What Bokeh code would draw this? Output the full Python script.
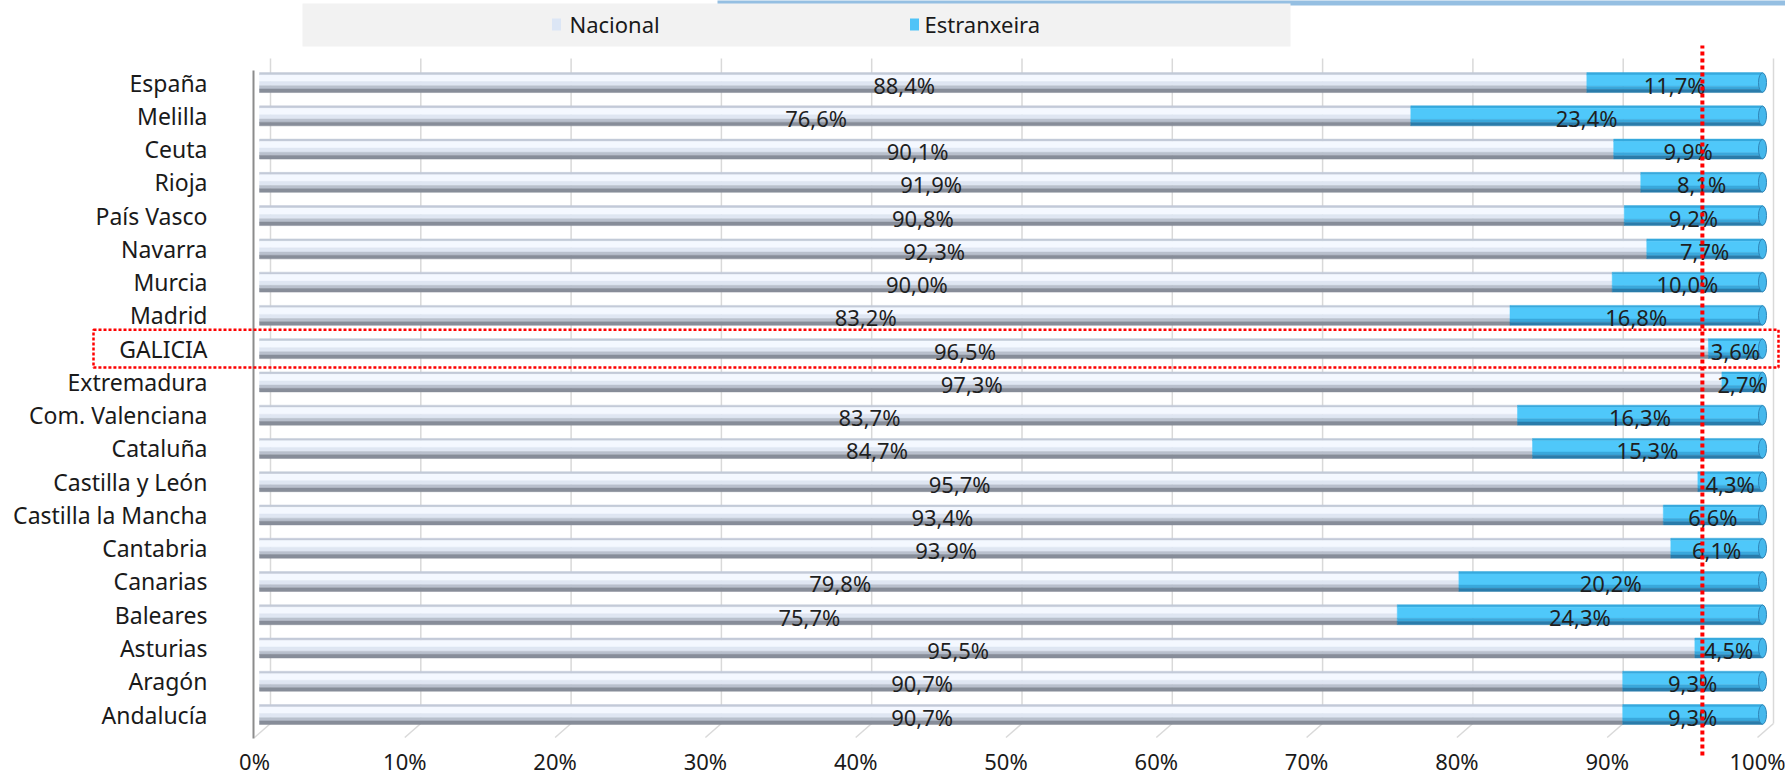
from bokeh.plotting import figure
from bokeh.models import Range1d
from bokeh.embed import file_html
from bokeh.resources import INLINE
from bokeh.core.properties import value

# ---------------- data ----------------
categories = ["España", "Melilla", "Ceuta", "Rioja", "País Vasco", "Navarra", "Murcia",
              "Madrid", "GALICIA", "Extremadura", "Com. Valenciana", "Cataluña",
              "Castilla y León", "Castilla la Mancha", "Cantabria", "Canarias",
              "Baleares", "Asturias", "Aragón", "Andalucía"]
nacional = [88.4, 76.6, 90.1, 91.9, 90.8, 92.3, 90.0, 83.2, 96.5, 97.3,
            83.7, 84.7, 95.7, 93.4, 93.9, 79.8, 75.7, 95.5, 90.7, 90.7]
estranxeira = [11.7, 23.4, 9.9, 8.1, 9.2, 7.7, 10.0, 16.8, 3.6, 2.7,
               16.3, 15.3, 4.3, 6.6, 6.1, 20.2, 24.3, 4.5, 9.3, 9.3]
series_names = ["Nacional", "Estranxeira"]
tick_values = [0, 10, 20, 30, 40, 50, 60, 70, 80, 90, 100]
tick_labels = ["0%", "10%", "20%", "30%", "40%", "50%", "60%", "70%", "80%", "90%", "100%"]
highlight = "GALICIA"
reference_line = 96.0

# ---------------- geometry ----------------
W, H = 1785, 777
X0, XS = 259.0, 15.03     # px of 0 %, px per %
Y0, YS = 714.0, 33.26     # px of last row centre, px per row
BAR_H = 0.60
FONT = value("Noto Sans")


def dx(c):
    return (c - X0) / XS


def dy(c):
    return (Y0 - c) / YS


n = len(categories)
idx = [n - 1 - i for i in range(n)]
totals = [a + b for a, b in zip(nacional, estranxeira)]
nac_share = [a / t * 100 for a, t in zip(nacional, totals)]
end_share = [100.0 for _ in totals]

p = figure(width=W, height=H, output_backend="svg", toolbar_location=None,
           x_range=Range1d(dx(0), dx(W)), y_range=Range1d(dy(H), dy(0)),
           min_border=0, outline_line_color=None)
p.axis.visible = False
p.grid.visible = False
p.background_fill_color = "white"
p.border_fill_color = "white"

# ---------------- top decoration + legend box ----------------
p.quad(left=[dx(717)], right=[dx(1790)], top=[dy(-2)], bottom=[dy(5)],
       fill_color="#95bfe2", line_color=None)
p.quad(left=[dx(302)], right=[dx(1290)], top=[dy(3)], bottom=[dy(46)],
       fill_color="#f2f2f2", line_color=None)
leg_cols = ["#dce6f5", "#4fc3f7"]
leg_sq_x = [dx(556), dx(914)]
leg_tx_x = [dx(569), dx(924)]
p.rect(x=leg_sq_x, y=[dy(24)] * 2, width=9, height=12, width_units="screen",
       height_units="screen", fill_color=leg_cols, line_color=None)
p.text(x=leg_tx_x, y=[dy(23)] * 2, text=series_names, text_font=FONT,
       text_font_size="22px", text_color="#1a1a1a", text_align="left",
       text_baseline="middle")

# ---------------- walls / gridlines ----------------
g_off = 11 / XS
gx = [v + g_off for v in tick_values]
p.segment(x0=gx, y0=[dy(58)] * len(gx), x1=gx, y1=[dy(723)] * len(gx),
          line_color="#d9d9d9", line_width=1.5)
p.segment(x0=gx, y0=[dy(723)] * len(gx), x1=[v - 16 / XS for v in gx],
          y1=[dy(737)] * len(gx), line_color="#d9d9d9", line_width=1.5)
p.segment(x0=[dx(253)], y0=[dy(70)], x1=[dx(253)], y1=[dy(738)],
          line_color="#8c8c8c", line_width=2)

# ---------------- bars (cylinder shading by bands) ----------------
nac_bands = [(0.00, 0.12, "#c3cad8"), (0.12, 0.45, "#f4f8ff"), (0.45, 0.66, "#dfe6f2"),
             (0.66, 0.82, "#b9c0cd"), (0.82, 1.00, "#878d99")]
est_bands = [(0.00, 0.12, "#37a9dd"), (0.12, 0.68, "#4fc8fa"),
             (0.68, 0.84, "#3aa8dc"), (0.84, 1.00, "#2a7cab")]


def band_y(a, b):
    return [i + BAR_H / 2 - (a + b) / 2 * BAR_H for i in idx]


for a, b, c in nac_bands:
    p.hbar(y=band_y(a, b), left=[0] * n, right=nac_share, height=(b - a) * BAR_H,
           fill_color=c, line_color=c, line_width=0.5)
for a, b, c in est_bands:
    p.hbar(y=band_y(a, b), left=nac_share, right=end_share, height=(b - a) * BAR_H,
           fill_color=c, line_color=c, line_width=0.5)
# rounded right caps
p.ellipse(x=end_share, y=idx, width=8, height=BAR_H * 0.97, width_units="screen",
          fill_color="#45b8ec", line_color="#2f86b8", line_width=1)

# ---------------- value labels ----------------
fmt = lambda v: f"{v:.1f}".replace(".", ",") + "%"
p.text(x=[s / 2 for s in nac_share], y=idx, text=[fmt(v) for v in nacional],
       text_font=FONT, text_font_size="22px", text_color="#1f1f1f",
       text_align="center", text_baseline="middle", y_offset=2, x_offset=-19)
p.text(x=[s + (100 - s) / 2 for s in nac_share], y=idx, text=[fmt(v) for v in estranxeira],
       text_font=FONT, text_font_size="22px", text_color="#1f1f1f",
       text_align="center", text_baseline="middle", y_offset=2)

# ---------------- category labels ----------------
p.text(x=[dx(207)] * n, y=idx, text=categories, text_font=FONT, text_font_size="23px",
       text_color="#1a1a1a", text_align="right", text_baseline="middle")

# ---------------- x tick labels ----------------
p.text(x=tick_values, y=[dy(760)] * len(tick_values), text=tick_labels, text_font=FONT,
       text_font_size="22px", text_color="#1a1a1a", text_align="center",
       text_baseline="middle", x_offset=-5)

# ---------------- highlight annotations ----------------
gi = idx[categories.index(highlight)]
p.quad(left=[dx(93)], right=[dx(1778)], top=[gi + 0.57], bottom=[gi - 0.57],
       fill_color=None, line_color="#ff0000", line_width=2.5, line_dash="3 2")
p.segment(x0=[reference_line], y0=[dy(755)], x1=[reference_line], y1=[dy(45)],
          line_color="#ff0000", line_width=4, line_dash="4 3")

open("out.html", "w").write(file_html(p, INLINE))
